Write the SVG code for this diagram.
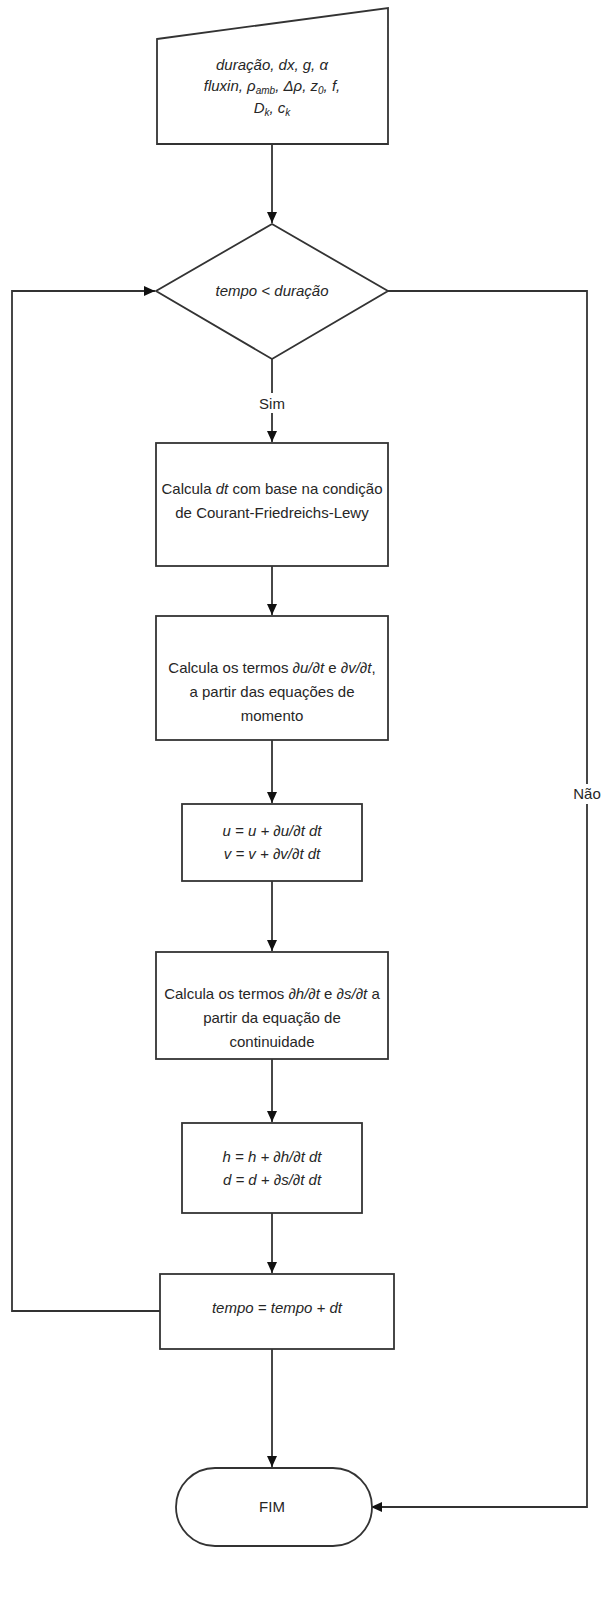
<svg xmlns="http://www.w3.org/2000/svg" width="601" height="1607" viewBox="0 0 601 1607">
<style>
.shape{fill:#ffffff;stroke:#333333;stroke-width:1.8}
.conn{fill:none;stroke:#333333;stroke-width:1.8}
.t{font-family:"Liberation Sans",Arial,sans-serif;font-size:15px;fill:#262626;text-anchor:middle}
.i{font-style:italic}
.sub{font-size:10px}
.lbl{font-family:"Liberation Sans",Arial,sans-serif;font-size:15px;fill:#262626;text-anchor:middle}
</style>
<defs>
<marker id="arr" markerUnits="userSpaceOnUse" markerWidth="12" markerHeight="11" refX="11" refY="5" orient="auto">
<path d="M0,0 L11,5 L0,10 z" fill="#111111"/>
</marker>
</defs>
<g id="connectors">
<line class="conn" x1="272" y1="144" x2="272" y2="223" marker-end="url(#arr)"/>
<line class="conn" x1="272" y1="359" x2="272" y2="442" marker-end="url(#arr)"/>
<line class="conn" x1="272" y1="566" x2="272" y2="615" marker-end="url(#arr)"/>
<line class="conn" x1="272" y1="740" x2="272" y2="803" marker-end="url(#arr)"/>
<line class="conn" x1="272" y1="881" x2="272" y2="951" marker-end="url(#arr)"/>
<line class="conn" x1="272" y1="1059" x2="272" y2="1122" marker-end="url(#arr)"/>
<line class="conn" x1="272" y1="1213" x2="272" y2="1273" marker-end="url(#arr)"/>
<line class="conn" x1="272" y1="1349" x2="272" y2="1467" marker-end="url(#arr)"/>
<polyline class="conn" points="160,1311 12,1311 12,291 155,291" marker-end="url(#arr)"/>
<polyline class="conn" points="388,291 587,291 587,1507 371,1507" marker-end="url(#arr)"/>
<rect x="256" y="393" width="32" height="20" fill="#ffffff"/>
<text class="lbl" x="272" y="409">Sim</text>
<rect x="571" y="784" width="30" height="20" fill="#ffffff"/>
<text class="lbl" x="587" y="799">Não</text>
</g>
<g id="input">
<polygon class="shape" points="157,39 388,8 388,144 157,144"/>
<text class="t i" x="272" y="70">duração, dx, g, α</text>
<text class="t i" x="272" y="91">fluxin, ρ<tspan class="sub" dy="3">amb</tspan><tspan dy="-3">, Δρ, z</tspan><tspan class="sub" dy="3">0</tspan><tspan dy="-3">, f,</tspan></text>
<text class="t i" x="272" y="113">D<tspan class="sub" dy="3">k</tspan><tspan dy="-3">, c</tspan><tspan class="sub" dy="3">k</tspan></text>
</g>
<g id="decision">
<polygon class="shape" points="272,224 388,291 272,359 156,291"/>
<text class="t i" x="272" y="296">tempo &lt; duração</text>
</g>
<g id="box1">
<rect class="shape" x="156" y="443" width="232" height="123"/>
<text class="t" x="272" y="494">Calcula <tspan class="i">dt</tspan> com base na condição</text>
<text class="t" x="272" y="518">de Courant-Friedreichs-Lewy</text>
</g>
<g id="box2">
<rect class="shape" x="156" y="616" width="232" height="124"/>
<text class="t" x="272" y="673">Calcula os termos <tspan class="i">∂u/∂t</tspan> e <tspan class="i">∂v/∂t</tspan>,</text>
<text class="t" x="272" y="697">a partir das equações de</text>
<text class="t" x="272" y="721">momento</text>
</g>
<g id="box3">
<rect class="shape" x="182" y="804" width="180" height="77"/>
<text class="t i" x="272" y="836">u = u + ∂u/∂t dt</text>
<text class="t i" x="272" y="859">v = v + ∂v/∂t dt</text>
</g>
<g id="box4">
<rect class="shape" x="156" y="952" width="232" height="107"/>
<text class="t" x="272" y="999">Calcula os termos <tspan class="i">∂h/∂t</tspan> e <tspan class="i">∂s/∂t</tspan> a</text>
<text class="t" x="272" y="1023">partir da equação de</text>
<text class="t" x="272" y="1047">continuidade</text>
</g>
<g id="box5">
<rect class="shape" x="182" y="1123" width="180" height="90"/>
<text class="t i" x="272" y="1162">h = h + ∂h/∂t dt</text>
<text class="t i" x="272" y="1185">d = d + ∂s/∂t dt</text>
</g>
<g id="box6">
<rect class="shape" x="160" y="1274" width="234" height="75"/>
<text class="t i" x="277" y="1313">tempo = tempo + dt</text>
</g>
<g id="fim">
<rect class="shape" x="176" y="1468" width="196" height="78" rx="39" ry="39"/>
<text class="t" x="272" y="1512">FIM</text>
</g>
</svg>
